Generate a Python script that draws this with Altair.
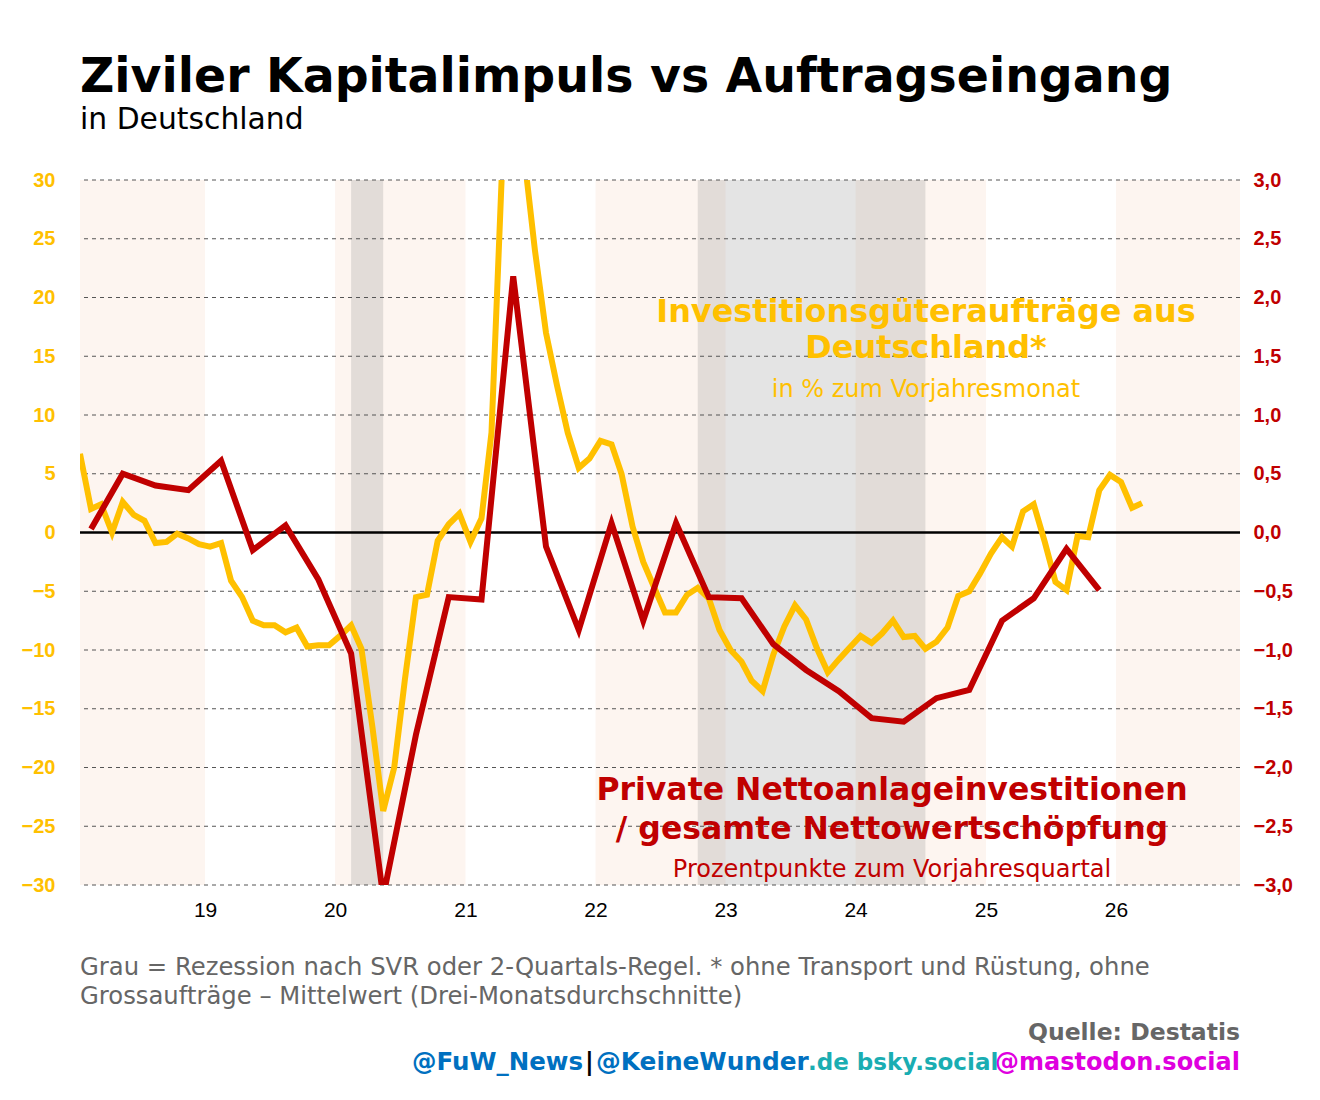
import altair as alt
import pandas as pd

# ---------------- data ----------------
# Investitionsgüteraufträge (monthly, 3-month average, % yoy), Jan 2018 .. Mar 2026
yellow_vals = [
    6.7, 2.0, 2.4, 0.0, 2.6, 1.5, 1.0, -0.9, -0.8, -0.1, -0.5, -1.0,          # 2018
    -1.2, -0.9, -4.1, -5.5, -7.5, -7.9, -7.9, -8.5, -8.1, -9.7, -9.6, -9.6,   # 2019
    -8.8, -7.9, -9.9, -16.6, -23.7, -20.0, -12.5, -5.5, -5.3, -0.7, 0.7, 1.6, # 2020
    -0.8, 1.2, 8.5, 32.0, 42.0, 32.0, 24.0, 17.0, 12.5, 8.5, 5.5, 6.3,        # 2021
    7.8, 7.5, 5.0, 0.5, -2.5, -4.7, -6.8, -6.8, -5.3, -4.7, -5.6, -8.3,       # 2022
    -10.0, -11.0, -12.6, -13.5, -10.4, -8.0, -6.2, -7.4, -9.9, -11.9, -10.8, -9.8,  # 2023
    -8.8, -9.4, -8.6, -7.5, -8.9, -8.8, -9.9, -9.3, -8.1, -5.4, -5.0, -3.5,   # 2024
    -1.8, -0.4, -1.2, 1.8, 2.4, -0.8, -4.2, -4.9, -0.3, -0.4, 3.6, 4.9,       # 2025
    4.3, 2.1, 2.5,                                                            # 2026
]
yellow_start = "2018-01-01"

# Private Nettoanlageinvestitionen / Nettowertschöpfung (quarterly, pp yoy), Q1 2018 .. Q4 2025
red_vals = [
    0.03, 0.50, 0.40, 0.36,
    0.61, -0.15, 0.06, -0.40,
    -1.03, -3.10, -1.72, -0.55,
    -0.57, 2.18, -0.12, -0.83,
    0.08, -0.75, 0.08, -0.55,
    -0.56, -0.95, -1.17, -1.35,
    -1.58, -1.61, -1.41, -1.34,
    -0.75, -0.56, -0.14, -0.49,
]
red_start = "2018-02-01"

# alternating year bands and recessions
band_starts = ["2018-01-01", "2020-01-01", "2022-01-01", "2024-01-01", "2026-01-01"]
band_ends = ["2019-01-01", "2021-01-01", "2023-01-01", "2025-01-01", "2027-01-01"]
rec_starts = ["2020-02-15", "2022-10-15"]
rec_ends = ["2020-05-15", "2024-07-15"]

left_ticks = [-30, -25, -20, -15, -10, -5, 0, 5, 10, 15, 20, 25, 30]
right_ticks = [-3.0, -2.5, -2.0, -1.5, -1.0, -0.5, 0.0, 0.5, 1.0, 1.5, 2.0, 2.5, 3.0]
grid_vals = [v for v in left_ticks if v != 0]
zero_line = [0]
year_ticks = [2019, 2020, 2021, 2022, 2023, 2024, 2025, 2026]

# ---------------- frames ----------------
fmt = "%Y-%m-%dT00:00:00"
y_dates = (pd.date_range(yellow_start, periods=len(yellow_vals), freq="MS") + pd.Timedelta(days=14)).strftime(fmt)
r_dates = (pd.date_range(red_start, periods=len(red_vals), freq="3MS") + pd.Timedelta(days=14)).strftime(fmt)
df_y = pd.DataFrame({"date": list(y_dates), "v": yellow_vals})
df_r = pd.DataFrame({"date": list(r_dates), "v": red_vals})
df_bands = pd.DataFrame({"start": [s + "T00:00:00" for s in band_starts],
                         "end": [e + "T00:00:00" for e in band_ends]})
df_rec = pd.DataFrame({"start": [s + "T00:00:00" for s in rec_starts],
                       "end": [e + "T00:00:00" for e in rec_ends]})
df_grid = pd.DataFrame({"v": grid_vals})
df_zero = pd.DataFrame({"v": zero_line})

W, H = 1160, 705
GOLD = "#FFC000"
RED = "#C00000"

x_scale = alt.Scale(domain=[alt.DateTime(year=2018, month=1, date=15),
                            alt.DateTime(year=2026, month=12, date=15)])
x_axis = alt.Axis(values=[alt.DateTime(year=y, month=1, date=1) for y in year_ticks],
                  format="%y", labelFont="Liberation Sans", labelFontSize=21,
                  labelColor="black", ticks=False, tickSize=0, domain=False,
                  grid=False, labelPadding=14, title=None, labelFlush=False)
yl_scale = alt.Scale(domain=[-30, 30], nice=False, zero=False)
yr_scale = alt.Scale(domain=[-3, 3], nice=False, zero=False)

bands = alt.Chart(df_bands).mark_rect(color="#FDF5F0", clip=True).encode(
    x=alt.X("start:T", scale=x_scale, axis=x_axis),
    x2="end:T",
    y=alt.value(0), y2=alt.value(H),
)
recs = alt.Chart(df_rec).mark_rect(color="#8c8c8c", opacity=0.23, clip=True).encode(
    x=alt.X("start:T", scale=x_scale, axis=x_axis),
    x2="end:T",
    y=alt.value(0), y2=alt.value(H),
)
grid = alt.Chart(df_grid).mark_rule(color="#555555", strokeWidth=1, strokeDash=[4, 4]).encode(
    y=alt.Y("v:Q", scale=yl_scale, axis=None)
)
zero = alt.Chart(df_zero).mark_rule(color="black", strokeWidth=2.5).encode(
    y=alt.Y("v:Q", scale=yl_scale, axis=None)
)
yellow = alt.Chart(df_y).mark_line(color=GOLD, strokeWidth=6, clip=True).encode(
    x=alt.X("date:T", scale=x_scale, axis=x_axis),
    y=alt.Y("v:Q", scale=yl_scale,
            axis=alt.Axis(orient="left", values=left_ticks, format="d",
                          labelFont="Liberation Sans", labelFontSize=20,
                          labelFontWeight="bold", labelColor=GOLD, labelPadding=25,
                          ticks=False, tickSize=0, domain=False, grid=False, title=None)),
)
red = alt.Chart(df_r).mark_line(color=RED, strokeWidth=6, clip=True).encode(
    x=alt.X("date:T", scale=x_scale, axis=x_axis),
    y=alt.Y("v:Q", scale=yr_scale,
            axis=alt.Axis(orient="right", values=right_ticks,
                          labelExpr="replace(format(datum.value, '.1f'), '.', ',')",
                          labelFont="Liberation Sans", labelFontSize=20,
                          labelFontWeight="bold", labelColor=RED, labelPadding=13,
                          ticks=False, tickSize=0, domain=False, grid=False, title=None)),
)


def txt(s, x, y, size, color, weight="normal", align="left", font="DejaVu Sans"):
    return alt.Chart(pd.DataFrame({"t": [s]})).mark_text(
        font=font, fontSize=size, fontWeight=weight, color=color,
        align=align, baseline="alphabetic",
    ).encode(text="t:N", x=alt.value(x), y=alt.value(y))


texts = [
    txt("Ziviler Kapitalimpuls vs Auftragseingang", 0, -88, 47.4, "black", "bold"),
    txt("in Deutschland", 0, -51, 29.8, "black"),
    txt("Investitionsgüteraufträge aus", 846, 142, 31.9, GOLD, "bold", "center"),
    txt("Deutschland*", 846, 178, 31.9, GOLD, "bold", "center"),
    txt("in % zum Vorjahresmonat", 846, 217, 24, GOLD, "normal", "center"),
    txt("Private Nettoanlageinvestitionen", 812, 620, 31.5, RED, "bold", "center"),
    txt("/ gesamte Nettowertschöpfung", 812, 659, 31.5, RED, "bold", "center"),
    txt("Prozentpunkte zum Vorjahresquartal", 812, 697, 24, RED, "normal", "center"),
    txt("Grau = Rezession nach SVR oder 2-Quartals-Regel. * ohne Transport und Rüstung, ohne",
        0, 795, 24.3, "#666666", "normal", "left"),
    txt("Grossaufträge – Mittelwert (Drei-Monatsdurchschnitte)",
        0, 824, 24.3, "#666666", "normal", "left"),
    txt("Quelle: Destatis", W, 860, 23.5, "#666666", "bold", "right"),
    txt("@mastodon.social", W, 890, 24, "#DF00DF", "bold", "right"),
    txt(".de bsky.social", 728, 890, 23, "#1AADB2", "bold", "left"),
    txt("@KeineWunder", 516, 890, 24.8, "#0070C0", "bold", "left"),
    txt("|", 505, 890, 24, "black", "bold", "left"),
    txt("@FuW_News", 503, 890, 24.5, "#0070C0", "bold", "right"),
]

chart = alt.layer(bands, recs, grid, zero, yellow, red, *texts).resolve_scale(
    y="independent"
).properties(
    width=W, height=H,
    padding={"left": 72, "top": 172, "right": 72, "bottom": 204},
    autosize=alt.AutoSizeParams(type="none"),
    background="white",
).configure_view(stroke=None)

chart.save("out.html", embed_options={"renderer": "svg", "actions": False})
